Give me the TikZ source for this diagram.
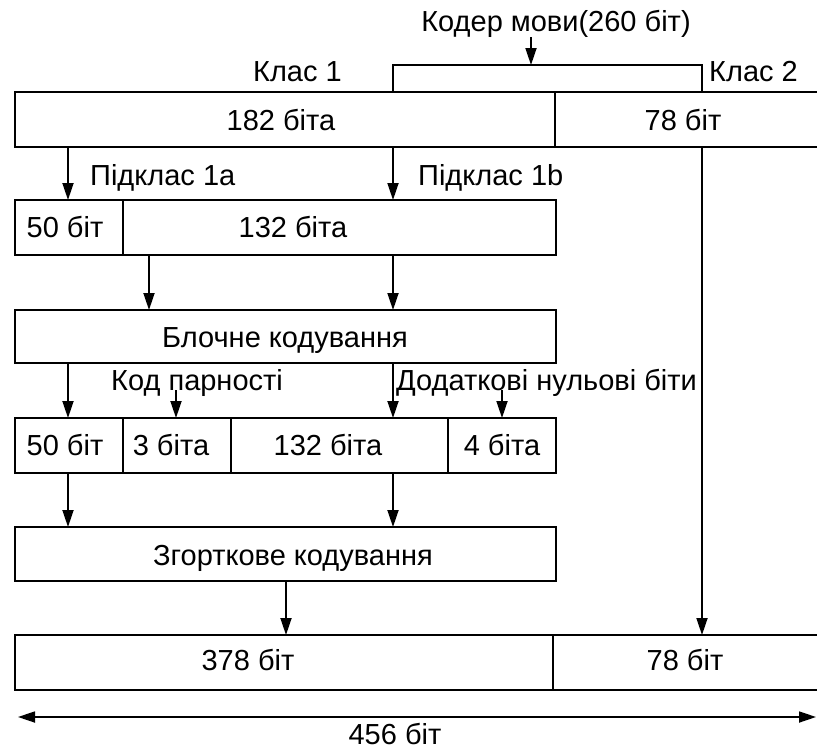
\documentclass[tikz,border=0pt]{standalone}
\usepackage{fontspec}
\setmainfont{Liberation Sans}
\usetikzlibrary{arrows.meta}
\tikzset{
  cell/.style={draw, line width=1.8pt, anchor=north west, inner sep=0pt, outer sep=0pt},
  opencell/.style={cell, draw=none},
  txt/.style={anchor=base, inner sep=0pt, font=\fontsize{29}{33}\selectfont},
  wire/.style={line width=1.8pt},
  arr/.style={wire, -{Triangle[length=17pt,width=11pt]}},
  dblarr/.style={wire, {Triangle[length=17pt,width=11pt]}-{Triangle[length=17pt,width=11pt]}},
}
\begin{document}
\begin{tikzpicture}[x=1pt,y=-1pt]
  \useasboundingbox (0,0) rectangle (817,750);
  % columns of the connectors
  \coordinate (k1) at (68,0);
  \coordinate (k2) at (393,0);
  \coordinate (k3) at (702,0);
  \coordinate (k4) at (149,0);
  \coordinate (k5) at (176,0);
  \coordinate (k6) at (502,0);
  \coordinate (k7) at (286,0);
  % speech coder
  \node[txt] (coder) at (556,31) {Кодер мови(260 біт)};
  \coordinate (split) at (531,65);
  \node[txt, anchor=base east] (cls1) at (342,81) {Клас 1};
  \node[txt, anchor=base west] (cls2) at (709,81) {Клас 2};
  % row 1
  \node[cell, minimum width=540pt, minimum height=55pt] (b182) at (15,92) {};
  \node[opencell, minimum width=262pt, minimum height=55pt] (b78) at (555,92) {};
  \draw[wire] (b78.north west) -- (b78.north east) (b78.south west) -- (b78.south east);
  \node[txt] (t182) at (281,130) {182 біта};
  \node[txt] (t78) at (683,130) {78 біт};
  \node[txt, anchor=base west] (sub1a) at (90,185) {Підклас 1a};
  \node[txt, anchor=base west] (sub1b) at (418,185) {Підклас 1b};
  % row 2
  \node[cell, minimum width=108pt, minimum height=55pt] (c50) at (15,200) {};
  \node[cell, minimum width=433pt, minimum height=55pt] (c132) at (123,200) {};
  \node[txt] (tc50) at (65,237) {50 біт};
  \node[txt] (tc132) at (293,237) {132 біта};
  % row 3
  \node[cell, minimum width=541pt, minimum height=53pt] (blk) at (15,310) {};
  \node[txt] (tblk) at (285,347) {Блочне кодування};
  \node[txt, anchor=base west] (lpar) at (111,390) {Код парності};
  \node[txt, anchor=base west] (lzero) at (396,390) {Додаткові нульові біти};
  % row 4
  \node[cell, minimum width=108pt, minimum height=55pt] (d50) at (15,418) {};
  \node[cell, minimum width=108pt, minimum height=55pt] (d3) at (123,418) {};
  \node[cell, minimum width=217pt, minimum height=55pt] (d132) at (231,418) {};
  \node[cell, minimum width=108pt, minimum height=55pt] (d4) at (448,418) {};
  \node[txt] (td50) at (65,455) {50 біт};
  \node[txt] (td3) at (171,455) {3 біта};
  \node[txt] (td132) at (328,455) {132 біта};
  \node[txt] (td4) at (502,455) {4 біта};
  % row 5
  \node[cell, minimum width=541pt, minimum height=54pt] (conv) at (15,527) {};
  \node[txt] (tconv) at (293,565) {Згорткове кодування};
  % row 6
  \node[cell, minimum width=538pt, minimum height=55pt] (b378) at (15,635) {};
  \node[opencell, minimum width=264pt, minimum height=55pt] (b78b) at (553,635) {};
  \draw[wire] (b78b.north west) -- (b78b.north east) (b78b.south west) -- (b78b.south east);
  \node[txt] (t378) at (248,670) {378 біт};
  \node[txt] (t78b) at (685,670) {78 біт};
  % total length
  \coordinate (wl) at (18,717);
  \coordinate (wr) at (816,717);
  \node[txt] (t456) at (395,744) {456 біт};
  % connectors
  \draw[arr] (coder.south -| split) -- (split);
  \draw[wire] (b182.north -| k2) |- (split) -| (b78.north -| k3);
  \foreach \k/\a/\b in {k1/b182/c50, k2/b182/c132, k4/c132/blk, k2/c132/blk,
                        k1/blk/d50, k2/blk/d132, k1/d50/conv, k2/d132/conv,
                        k7/conv/b378, k3/b78/b78b}
    \draw[arr] (\a.south -| \k) -- (\b.north -| \k);
  \draw[arr] (lpar.base -| k5) -- (d3.north -| k5);
  \draw[arr] (lzero.base -| k6) -- (d4.north -| k6);
  \draw[dblarr] (wl) -- (wr);
\end{tikzpicture}
\end{document}
